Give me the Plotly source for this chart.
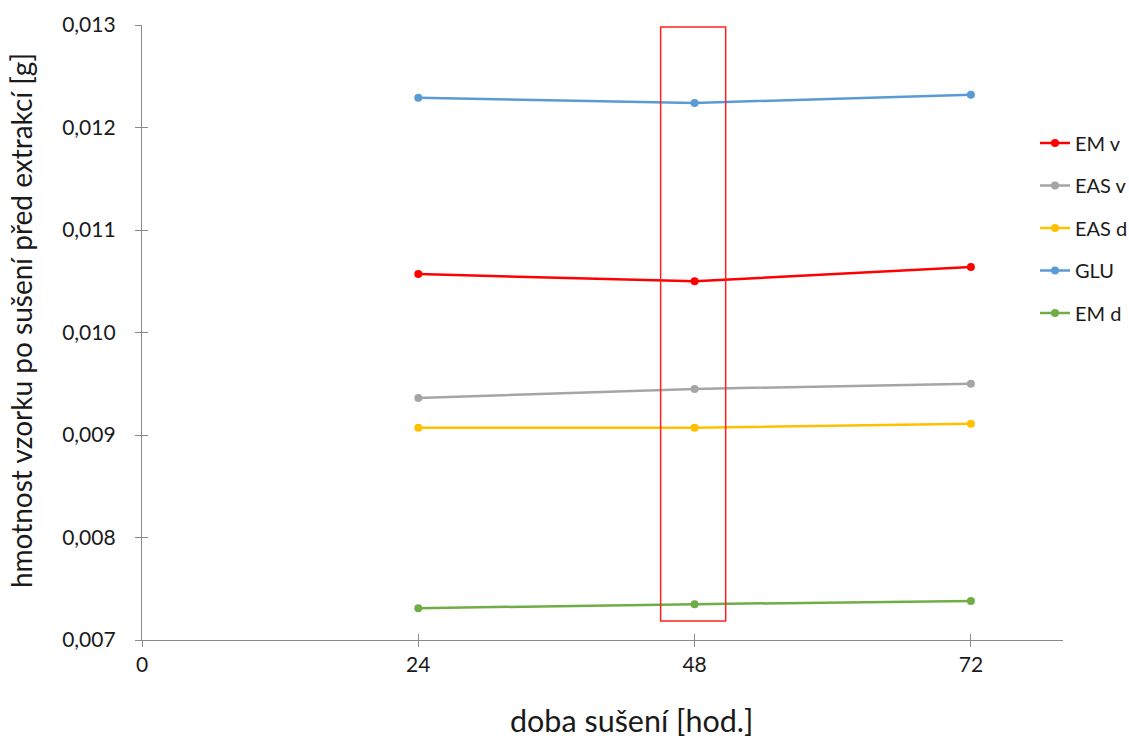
import plotly.graph_objects as go

# Drying time [hours]
doba = [24, 48, 72]

# Sample mass after drying, before extraction [g]
series_names = ["EM v", "EAS v", "EAS d", "GLU", "EM d"]
em_v = [0.01057, 0.01050, 0.01064]
eas_v = [0.00936, 0.00945, 0.00950]
eas_d = [0.00907, 0.00907, 0.00911]
glu = [0.01229, 0.01224, 0.01232]
em_d = [0.00731, 0.00735, 0.00738]

colors = ["#FF0000", "#A5A5A5", "#FFC000", "#5B9BD5", "#70AD47"]
values = [em_v, eas_v, eas_d, glu, em_d]

x_ticks = [0, 24, 48, 72]
y_ticks = [0.007, 0.008, 0.009, 0.010, 0.011, 0.012, 0.013]

x_title = "doba sušení [hod.]"
y_title = "hmotnost vzorku po sušení před extrakcí [g]"

# Highlighted 48 h column
box_x = [45.05, 50.7]
box_y = [0.007185, 0.01298]

font_family = "Lato, Open Sans, sans-serif"
text_col = "#1a1a1a"

fig = go.Figure()
for i, (name, vals, col) in enumerate(zip(series_names, values, colors)):
    fig.add_trace(go.Scatter(
        x=doba, y=vals, name=name, mode="lines+markers",
        line=dict(color=col, width=2.5),
        marker=dict(color=col, size=8),
        legendgroup=str(i),
    ))

fig.add_shape(type="rect", xref="x", yref="y",
              x0=box_x[0], x1=box_x[1], y0=box_y[0], y1=box_y[1],
              line=dict(color="#FF2020", width=1.5), fillcolor="rgba(0,0,0,0)")

# Axis titles as free annotations
fig.add_annotation(text=x_title, xref="paper", yref="paper", x=0.532, y=-0.130,
                   xanchor="center", yanchor="middle", showarrow=False,
                   font=dict(size=30.5, family=font_family, color=text_col))
fig.add_annotation(text=y_title, xref="paper", yref="paper", x=-0.1315, y=0.520,
                   xanchor="center", yanchor="middle", showarrow=False, textangle=-90,
                   font=dict(size=28, family=font_family, color=text_col))

axis_col = "#8a8a8a"
fig.update_layout(
    width=1129, height=738,
    margin=dict(l=142, r=66, t=25, b=98, autoexpand=False),
    paper_bgcolor="white", plot_bgcolor="white",
    separators=", ",
    font=dict(family=font_family, color=text_col),
    showlegend=True,
    legend=dict(x=0.9696, xanchor="left", y=0.84, yanchor="top",
                font=dict(size=20, family=font_family, color=text_col),
                traceorder="grouped", tracegroupgap=13.5,
                itemwidth=30, bgcolor="rgba(0,0,0,0)"),
    xaxis=dict(range=[0, 80], tickvals=x_ticks, ticktext=[str(v) for v in x_ticks],
               showgrid=False, zeroline=False, showline=True, linecolor=axis_col,
               linewidth=1.3, ticks="outside", ticklen=6, tickcolor=axis_col,
               tickfont=dict(size=21, family=font_family, color=text_col)),
    yaxis=dict(range=[0.007, 0.013], tickvals=y_ticks, tickformat=".3f",
               showgrid=False, zeroline=False, showline=True, linecolor=axis_col,
               linewidth=1.3, ticks="outside", ticklen=6, tickcolor=axis_col,
               ticklabelstandoff=15,
               tickfont=dict(size=21, family=font_family, color=text_col)),
    # overlay axes give the inner half of the cross-style tick marks
    xaxis2=dict(overlaying="x", matches="x", side="bottom", anchor="y",
                tickvals=x_ticks, showticklabels=False, ticks="inside", ticklen=6,
                tickcolor=axis_col, showgrid=False, zeroline=False, showline=False),
    yaxis2=dict(overlaying="y", matches="y", side="left", anchor="x",
                tickvals=y_ticks, showticklabels=False, ticks="inside", ticklen=6,
                tickcolor=axis_col, showgrid=False, zeroline=False, showline=False),
)

# invisible trace binding the overlay axes
fig.add_trace(go.Scatter(x=[None], y=[None], xaxis="x2", yaxis="y2",
                         showlegend=False, hoverinfo="skip"))

fig.write_html("out.html")
